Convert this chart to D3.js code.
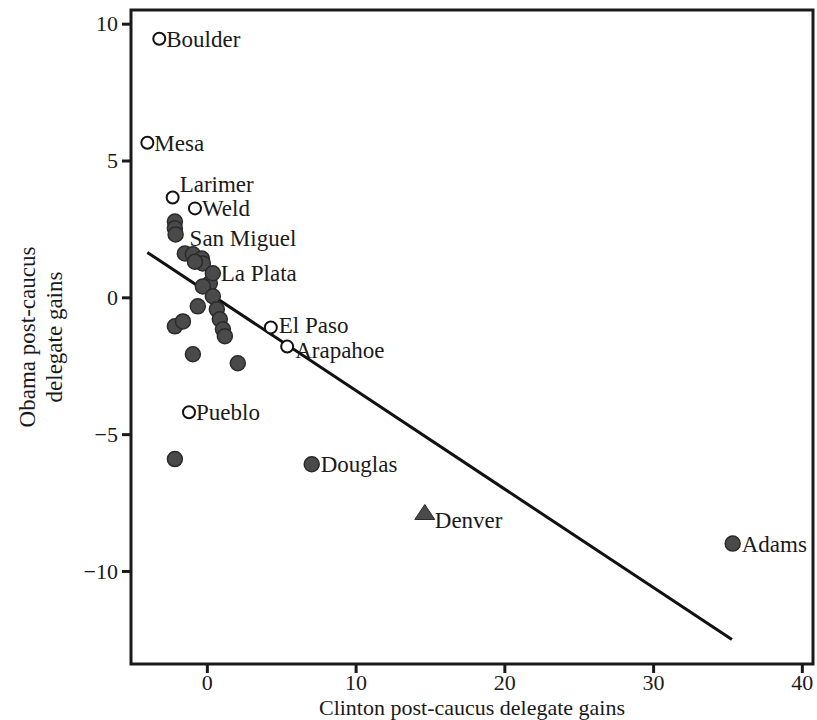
<!DOCTYPE html>
<html lang="en">
<head>
<meta charset="UTF-8">
<title>Colorado caucus delegate gains</title>
<script src="https://d3js.org/d3.v7.min.js"></script>
<style>
  body { margin: 0; background: #fff; }
  text { font-family: "Liberation Serif", "DejaVu Serif", serif; fill: #1a1a1a; }
</style>
</head>
<body>
<svg width="817" height="720"></svg>
<script>
// labelled counties
const names   = ['Boulder', 'Mesa', 'Larimer', 'Weld', 'San Miguel', 'La Plata', 'El Paso', 'Arapahoe', 'Pueblo', 'Douglas', 'Denver', 'Adams'];
const clinton = [-3.2, -4.0, -2.3, -0.8, -2.1, 0.4, 4.3, 5.4, -1.2, 7.05, 14.65, 35.35];
const obama   = [9.45, 5.65, 3.65, 3.25, 2.3, 0.88, -1.1, -1.8, -4.2, -6.1, -7.9, -9.0];
const kind    = ['open', 'open', 'open', 'open', 'filled', 'filled', 'open', 'open', 'open', 'filled', 'triangle', 'filled'];

// unlabelled counties (filled)
const otherX = [-2.15, -2.15, -1.48, -0.94, -0.34, -0.27, -0.8, 0.2, -0.27, 0.4, 0.67, 0.87, 1.08, 1.21, -0.61, -2.15, -1.61, -0.94, 2.08, -2.15];
const otherY = [2.77, 2.52, 1.6, 1.57, 1.42, 1.24, 1.3, 0.51, 0.4, 0.04, -0.44, -0.8, -1.17, -1.42, -0.33, -1.06, -0.88, -2.08, -2.41, -5.91];

// fitted line
const fitRange = [-4.0, 35.3];
const fitIntercept = 0.2;
const fitSlope = -0.36;

const xTicks = [0, 10, 20, 30, 40];
const yTicks = [-10, -5, 0, 5, 10];

const svg = d3.select('svg');
const box = {left: 131, right: 813, top: 10, bottom: 664};

const x = d3.scaleLinear().domain([-5.1, 40.75]).range([box.left, box.right]);
const y = d3.scaleLinear().domain([-13.4, 10.5]).range([box.bottom, box.top]);

// frame
svg.append('rect')
  .attr('x', box.left).attr('y', box.top)
  .attr('width', box.right - box.left).attr('height', box.bottom - box.top)
  .attr('fill', 'none').attr('stroke', '#1a1a1a').attr('stroke-width', 3);

// axes
const xAxis = svg.append('g')
  .attr('transform', `translate(0,${box.bottom + 1})`)
  .call(d3.axisBottom(x).tickValues(xTicks).tickSize(8).tickPadding(1).tickFormat(d3.format('d')));
const yAxis = svg.append('g')
  .attr('transform', `translate(${box.left - 1},0)`)
  .call(d3.axisLeft(y).tickValues(yTicks).tickSize(8).tickPadding(4).tickFormat(d => d < 0 ? '\u2212' + Math.abs(d) : d));

[xAxis, yAxis].forEach(g => {
  g.select('.domain').remove();
  g.selectAll('.tick line').attr('stroke', '#1a1a1a').attr('stroke-width', 3);
  g.selectAll('.tick text').attr('font-size', 22).attr('fill', '#1a1a1a')
    .style('font-family', '"Liberation Serif", serif');
});

// axis titles
svg.append('text')
  .attr('x', (box.left + box.right) / 2).attr('y', 715)
  .attr('text-anchor', 'middle').attr('font-size', 22)
  .text('Clinton post-caucus delegate gains');

const yt = svg.append('text')
  .attr('transform', `translate(35,${(box.top + box.bottom) / 2}) rotate(-90)`)
  .attr('text-anchor', 'middle').attr('font-size', 23);
yt.append('tspan').attr('x', 0).attr('dy', 0).text('Obama post-caucus');
yt.append('tspan').attr('x', 0).attr('dy', 27).text('delegate gains');

// fitted line
svg.append('line')
  .attr('x1', x(fitRange[0])).attr('y1', y(fitIntercept + fitSlope * fitRange[0]))
  .attr('x2', x(fitRange[1])).attr('y2', y(fitIntercept + fitSlope * fitRange[1]))
  .attr('stroke', '#111').attr('stroke-width', 3);

// unlabelled points
svg.selectAll('.other')
  .data(d3.range(otherX.length))
  .enter().append('circle')
  .attr('class', 'other')
  .attr('cx', i => x(otherX[i])).attr('cy', i => y(otherY[i]))
  .attr('r', 7.5)
  .attr('fill', '#4a4a4a').attr('stroke', '#2a2a2a').attr('stroke-width', 1.5);

// labelled points
const pts = d3.range(names.length);
pts.forEach(i => {
  const cx = x(clinton[i]), cy = y(obama[i]);
  if (kind[i] === 'triangle') {
    svg.append('path')
      .attr('d', `M${cx},${cy - 9} L${cx + 10},${cy + 6} L${cx - 10},${cy + 6} Z`)
      .attr('fill', '#4a4a4a').attr('stroke', '#2a2a2a').attr('stroke-width', 1);
  } else if (kind[i] === 'filled') {
    svg.append('circle').attr('cx', cx).attr('cy', cy).attr('r', 7.5)
      .attr('fill', '#4a4a4a').attr('stroke', '#2a2a2a').attr('stroke-width', 1.5);
  } else {
    svg.append('circle').attr('cx', cx).attr('cy', cy).attr('r', 6)
      .attr('fill', '#fff').attr('stroke', '#111').attr('stroke-width', 2);
  }
});

// label offsets (px) relative to each point
const labelDx = [7, 7, 7, 7, 14, 8, 8, 8, 7, 9, 10, 9];
const labelDy = [0, 0, -13, 0, 4, 0, -2, 3, 0, 0, 6, 0];

svg.selectAll('.lbl')
  .data(pts)
  .enter().append('text')
  .attr('class', 'lbl')
  .attr('x', i => x(clinton[i]) + labelDx[i])
  .attr('y', i => y(obama[i]) + labelDy[i])
  .attr('dy', '0.35em')
  .attr('font-size', 23)
  .text(i => names[i]);
</script>
</body>
</html>
